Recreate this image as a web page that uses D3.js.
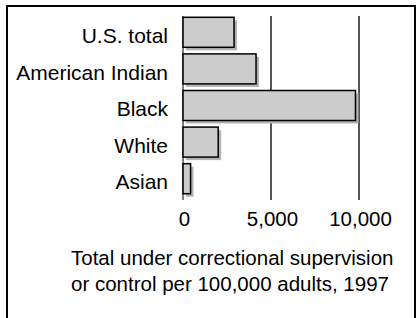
<!DOCTYPE html>
<html>
<head>
<meta charset="utf-8">
<script src="https://cdn.jsdelivr.net/npm/d3@7"></script>
<style>
  body { margin: 0; background: #fff; }
  text { font-family: "Liberation Sans", Arial, sans-serif; fill: #000; }
</style>
</head>
<body>
<div id="chart"></div>
<script>
const groups = ['U.S. total', 'American Indian', 'Black', 'White', 'Asian'];
const rates = [2900, 4150, 9800, 2000, 430];
const tickValues = [0, 5000, 10000];
const titleLines = ['Total under correctional supervision', 'or control per 100,000 adults, 1997'];

const w = 417;
const h = 318;

const svg = d3.select('#chart')
    .append('svg')
    .attr('width', w)
    .attr('height', h);

// frame (open at the bottom)
svg.append('path')
    .attr('d', 'M7,' + (h + 5) + 'V6H415V' + (h + 5))
    .attr('fill', 'none')
    .attr('stroke', '#000')
    .attr('stroke-width', 2);

const x = d3.scaleLinear().domain([0, 10000]).range([183, 359]);
const y = d3.scaleBand().domain(groups).range([14, 197]).paddingInner(0.18).paddingOuter(0.09);

// grid lines
svg.selectAll('line.grid')
    .data(tickValues.slice(1))
    .enter()
    .append('line')
    .attr('class', 'grid')
    .attr('x1', d => x(d))
    .attr('x2', d => x(d))
    .attr('y1', 16)
    .attr('y2', 200)
    .attr('stroke', '#555')
    .attr('stroke-width', 2);

// zero line
svg.append('line')
    .attr('x1', x(0)).attr('x2', x(0))
    .attr('y1', 16).attr('y2', 200)
    .attr('stroke', '#000')
    .attr('stroke-width', 1);

// bar shadows
svg.selectAll('rect.shadow')
    .data(rates)
    .enter()
    .append('rect')
    .attr('class', 'shadow')
    .attr('x', x(0) + 3)
    .attr('y', (d, i) => y(groups[i]) + 3)
    .attr('width', d => x(d) - x(0))
    .attr('height', y.bandwidth())
    .attr('fill', '#b4b4b4');

// bars
svg.selectAll('rect.bar')
    .data(rates)
    .enter()
    .append('rect')
    .attr('class', 'bar')
    .attr('x', x(0))
    .attr('y', (d, i) => y(groups[i]))
    .attr('width', d => x(d) - x(0))
    .attr('height', y.bandwidth())
    .attr('fill', '#cccccc')
    .attr('stroke', '#000')
    .attr('stroke-width', 1.5);

// category labels
const yAxis = svg.append('g')
    .attr('transform', 'translate(168,4)')
    .call(d3.axisLeft(y).tickSize(0).tickPadding(0));
yAxis.select('.domain').remove();
yAxis.selectAll('text')
    .attr('font-size', 21)
    .attr('font-family', '"Liberation Sans", Arial, sans-serif')
    .attr('fill', '#000');

// value labels
const xAxis = svg.append('g')
    .attr('transform', 'translate(1,211)')
    .call(d3.axisBottom(x).tickValues(tickValues).tickSize(0).tickPadding(0).tickFormat(d3.format(',')));
xAxis.select('.domain').remove();
xAxis.selectAll('text')
    .attr('font-size', 20.5)
    .attr('font-family', '"Liberation Sans", Arial, sans-serif')
    .attr('fill', '#000');

// caption
svg.selectAll('text.caption')
    .data(titleLines)
    .enter()
    .append('text')
    .attr('class', 'caption')
    .attr('x', 71)
    .attr('y', (d, i) => 265 + i * 26)
    .attr('font-size', 20.5)
    .text(d => d);
</script>
</body>
</html>
